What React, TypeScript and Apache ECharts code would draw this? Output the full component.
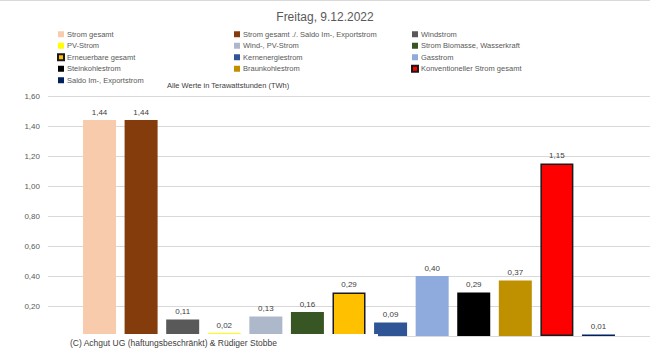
import React, { useEffect, useRef } from "react";
import * as echarts from "echarts";

const titleText = "Freitag, 9.12.2022";
const unitNote = "Alle Werte in Terawattstunden (TWh)";
const copyright = "(C) Achgut UG (haftungsbeschränkt) & Rüdiger Stobbe";

const seriesNames = [
  "Strom gesamt",
  "Strom gesamt ./. Saldo Im-, Exportstrom",
  "Windstrom",
  "PV-Strom",
  "Wind-, PV-Strom",
  "Strom Biomasse, Wasserkraft",
  "Erneuerbare gesamt",
  "Kernenergiestrom",
  "Gasstrom",
  "Steinkohlestrom",
  "Braunkohlestrom",
  "Konventioneller Strom gesamt",
  "Saldo Im-, Exportstrom",
];
const seriesValues = [1.44, 1.44, 0.11, 0.02, 0.13, 0.16, 0.29, 0.09, 0.4, 0.29, 0.37, 1.15, 0.01];
const seriesColors = [
  "#F8CBAD", "#843C0C", "#595959", "#FFFF00", "#ADB9CA", "#375623",
  "#FFC000", "#2F5597", "#8FAADC", "#000000", "#BF9000", "#FF0000", "#002060",
];
const bordered = [false, false, false, false, false, false, true, false, false, false, false, true, false];

const legendCol1 = [seriesNames[0], seriesNames[3], seriesNames[6], seriesNames[9], seriesNames[12]];
const legendCol2 = [seriesNames[1], seriesNames[4], seriesNames[7], seriesNames[10]];
const legendCol3 = [seriesNames[2], seriesNames[5], seriesNames[8], seriesNames[11]];

const fmt = (v: number) => v.toFixed(2).replace(".", ",");
const FONT = "'Liberation Sans Narrow', 'Liberation Sans', sans-serif";

export default function App() {
  const ref = useRef<HTMLDivElement>(null);
  useEffect(() => {
    if (!ref.current) return;
    const chart = echarts.init(ref.current, undefined, { renderer: "svg" });
    const legendBase = (left: number, data: string[]) => ({
      orient: "vertical" as const,
      left,
      top: 30,
      data,
      icon: "rect",
      itemWidth: 6,
      itemHeight: 6,
      itemGap: 3,
      padding: 0,
      selectedMode: false,
      textStyle: { fontFamily: FONT, fontSize: 7.5, color: "#595959", padding: [0, 0, 0, -2], lineHeight: 8.5 },
    });
    chart.setOption({
      animation: false,
      backgroundColor: "#ffffff",
      title: {
        text: titleText,
        left: "center",
        top: 6,
        textStyle: { fontFamily: FONT, fontSize: 12, fontWeight: "normal", color: "#595959" },
      },
      legend: [legendBase(57, legendCol1), legendBase(234, legendCol2), legendBase(411, legendCol3)],
      grid: { left: 48, right: 0, top: 96, bottom: 20, containLabel: false },
      xAxis: {
        type: "category",
        data: ["Freitag"],
        axisLabel: { show: false },
        axisTick: { show: false },
        axisLine: { lineStyle: { color: "#d9d9d9" } },
      },
      yAxis: {
        type: "value",
        min: 0,
        max: 1.6,
        interval: 0.2,
        axisLabel: { formatter: (v: number) => fmt(v), fontFamily: FONT, fontSize: 8, color: "#595959", margin: 8 },
        splitLine: { lineStyle: { color: "#d9d9d9" } },
        axisLine: { show: false },
        axisTick: { show: false },
      },
      series: seriesNames.map((name, i) => ({
        name,
        type: "bar",
        data: [seriesValues[i]],
        barWidth: 33,
        barGap: "26%",
        itemStyle: {
          color: seriesColors[i],
          borderColor: bordered[i] ? "#1a1a1a" : undefined,
          borderWidth: bordered[i] ? 1.5 : 0,
        },
        label: {
          show: true,
          position: "top",
          distance: 4,
          formatter: (p: any) => fmt(p.value),
          fontFamily: FONT,
          fontSize: 8,
          color: "#404040",
        },
      })),
      graphic: [
        { type: "line", shape: { x1: 0, y1: 0.5, x2: 650, y2: 0.5 }, style: { stroke: "#d9d9d9", lineWidth: 1 } },
        {
          type: "text",
          left: 167,
          top: 81,
          style: { text: unitNote, fontFamily: FONT, fontSize: 7.5, fill: "#404040" },
        },
        {
          type: "rect",
          z: 100,
          shape: { x: 20, y: 334, width: 358, height: 22 },
          style: { fill: "#ffffff" },
        },
        {
          type: "text",
          z: 101,
          left: 70,
          top: 338,
          style: { text: copyright, fontFamily: "'Liberation Sans', sans-serif", fontSize: 8.5, fill: "#404040" },
        },
      ],
    });
    return () => chart.dispose();
  }, []);
  return (
    <div
      ref={ref}
      style={{ position: "fixed", left: 0, top: 0, width: 650, height: 356 }}
    />
  );
}
